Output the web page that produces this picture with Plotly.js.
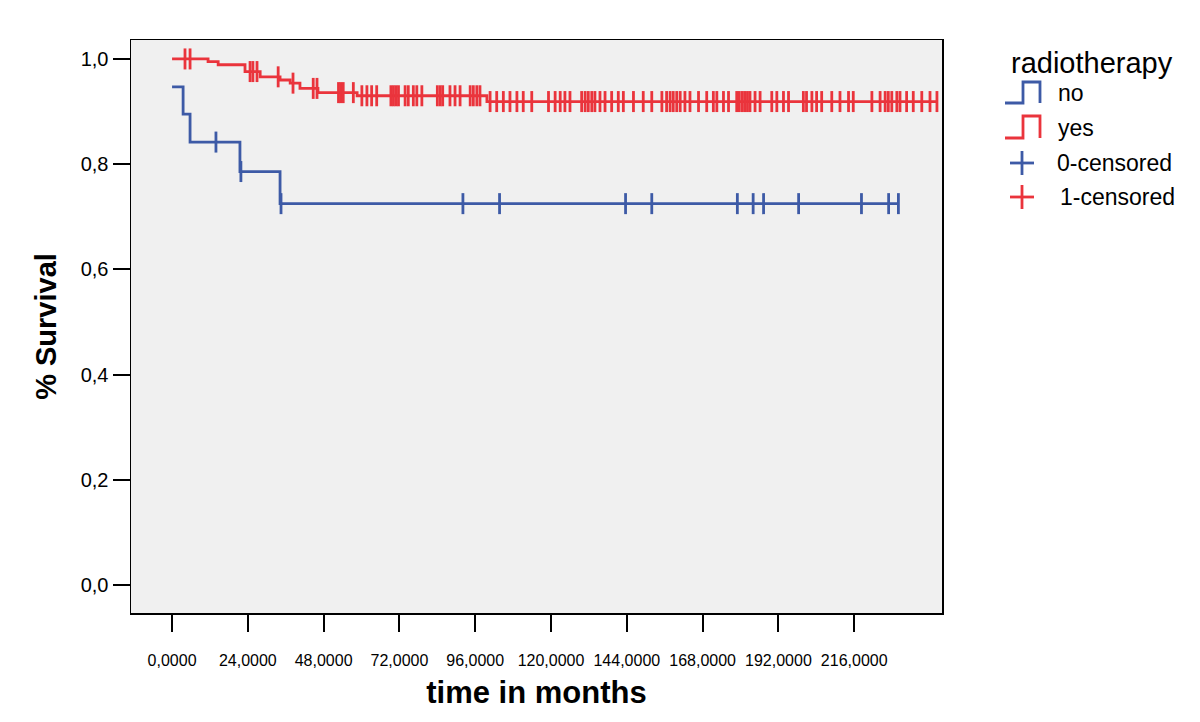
<!DOCTYPE html>
<html>
<head>
<meta charset="utf-8">
<script src="https://cdn.plot.ly/plotly-3.0.1.min.js"></script>
<style>
html,body{margin:0;padding:0;background:#fff;}
#chart{width:1200px;height:722px;}
</style>
</head>
<body>
<div id="chart"></div>
<script>
// ---- data (months, survival proportion) ----
const noEventTimes   = [0, 3.5, 5.7, 21.5, 34.2];
const noSurvival     = [0.947, 0.895, 0.842, 0.786, 0.725];
const noEnd          = 230.0;
const noCensored     = [13.9, 21.8, 34.5, 92.1, 103.7, 143.6, 151.9, 179.0, 184.0, 187.3, 198.4, 218.3, 226.9, 230.0];

const yesEventTimes  = [0, 11.4, 14.6, 23.1, 27.9, 34.2, 37.4, 40.5, 46.2, 58.6, 99.7];
const yesSurvival    = [1.0, 0.995, 0.989, 0.976, 0.966, 0.960, 0.954, 0.944, 0.936, 0.930, 0.919];
const yesEnd         = 242.2;
const yesCensored    = [4.1, 5.7, 24.7, 25.6, 26.9, 33.6, 38.3, 44.7, 45.9,
  52.7, 53.4, 54.2, 57.4, 60.1, 61.7, 63.2, 64.8,
  69.3, 70.1, 70.9, 71.7, 73.8, 74.8, 76.4, 77.5, 79.1, 84.0, 84.9, 85.7, 88.0, 89.6, 91.2, 94.4, 95.4, 96.5, 97.5,
  100.7, 102.8, 104.9, 107.0, 109.2, 111.2, 113.9, 119.2, 121.3, 122.9, 124.4, 126.0, 129.7, 130.8, 131.8, 132.9, 133.9,
  135.5, 137.1, 139.2, 141.3, 142.9, 146.1, 149.2, 151.9, 155.1, 156.6, 157.7, 158.7, 159.8, 160.9, 162.4, 164.0, 166.7,
  169.3, 171.4, 172.5, 174.6, 176.2, 178.8, 179.6, 180.5, 181.3, 182.2, 183.0, 184.6, 186.2, 189.9, 191.5, 193.6, 195.2,
  199.9, 200.9, 202.6, 204.1, 205.7, 208.9, 211.5, 214.2, 215.7, 221.6, 224.2, 225.8, 226.8, 227.9, 229.5, 230.5,
  232.6, 234.7, 237.4, 240.0, 242.2];

const xTickVals   = [0, 24, 48, 72, 96, 120, 144, 168, 192, 216];
const xTickText   = ["0,0000","24,0000","48,0000","72,0000","96,0000","120,0000","144,0000","168,0000","192,0000","216,0000"];
const yTickVals   = [0, 0.2, 0.4, 0.6, 0.8, 1.0];
const yTickText   = ["0,0","0,2","0,4","0,6","0,8","1,0"];
const legendTitle = "radiotherapy";
const legendLabels = ["no", "yes", "0-censored", "1-censored"];

// ---- styles ----
const BLUE = "#3d5aa6";
const RED  = "#ea343c";
const W = 1200, H = 722;
const M = {l: 131, r: 258, t: 40, b: 109};
const PW = W - M.l - M.r, PH = H - M.t - M.b;
const px = x => (x - M.l) / PW;        // pixel -> paper x
const py = y => (H - M.b - y) / PH;    // pixel -> paper y

function stepLine(times, surv, end) {
  return {x: times.concat([end]), y: surv.concat([surv[surv.length - 1]])};
}
function survAt(times, surv, t) {
  let s = surv[0];
  for (let i = 0; i < times.length; i++) if (times[i] <= t) s = surv[i];
  return s;
}

const noLine = stepLine(noEventTimes, noSurvival, noEnd);
const yesLine = stepLine(yesEventTimes, yesSurvival, yesEnd);

const LW = 2.8;
const traces = [
  {x: noLine.x, y: noLine.y, mode: "lines", line: {shape: "hv", color: BLUE, width: LW}, hoverinfo: "skip", showlegend: false},
  {x: yesLine.x, y: yesLine.y, mode: "lines", line: {shape: "hv", color: RED, width: LW}, hoverinfo: "skip", showlegend: false},
  {x: noCensored, y: noCensored.map(t => survAt(noEventTimes, noSurvival, t)), mode: "markers",
   marker: {symbol: "line-ns-open", size: 15, color: BLUE, line: {color: BLUE, width: LW}}, showlegend: false},
  {x: yesCensored, y: yesCensored.map(t => survAt(yesEventTimes, yesSurvival, t)), mode: "markers",
   marker: {symbol: "line-ns-open", size: 15, color: RED, line: {color: RED, width: LW}}, showlegend: false}
];

// ---- hand-drawn legend (paper coords) ----
const shapes = [];
function stepIcon(color, yb, yt) {
  const xs = [1005, 1023, 1023, 1040, 1040];
  const ys = [yb, yb, yt, yt, yb];
  let path = "M" + px(xs[0]) + "," + py(ys[0]);
  for (let i = 1; i < xs.length; i++) path += " L" + px(xs[i]) + "," + py(ys[i]);
  shapes.push({type: "path", xref: "paper", yref: "paper", path: path, line: {color: color, width: LW}});
}
function plusIcon(color, cx, cy) {
  shapes.push({type: "line", xref: "paper", yref: "paper", x0: px(cx - 12), x1: px(cx + 12), y0: py(cy), y1: py(cy), line: {color: color, width: LW}});
  shapes.push({type: "line", xref: "paper", yref: "paper", x0: px(cx), x1: px(cx), y0: py(cy - 12), y1: py(cy + 12), line: {color: color, width: LW}});
}
stepIcon(BLUE, 103, 82);
stepIcon(RED, 138, 116);
plusIcon(BLUE, 1022, 163);
plusIcon(RED, 1022, 197);

const FONT = "Liberation Sans, Arial, Helvetica, sans-serif";
const annotations = [
  {text: legendTitle, x: px(1009), y: py(63), xanchor: "left", yanchor: "middle", font: {size: 29, color: "#000", family: FONT}},
  {text: legendLabels[0], x: px(1056), y: py(93), xanchor: "left", yanchor: "middle", font: {size: 23, color: "#000", family: FONT}},
  {text: legendLabels[1], x: px(1056), y: py(128), xanchor: "left", yanchor: "middle", font: {size: 23, color: "#000", family: FONT}},
  {text: legendLabels[2], x: px(1055), y: py(163), xanchor: "left", yanchor: "middle", font: {size: 23, color: "#000", family: FONT}},
  {text: legendLabels[3], x: px(1058), y: py(197), xanchor: "left", yanchor: "middle", font: {size: 23, color: "#000", family: FONT}}
].map(a => Object.assign({xref: "paper", yref: "paper", showarrow: false}, a));

const layout = {
  width: W, height: H,
  margin: M,
  paper_bgcolor: "#ffffff",
  plot_bgcolor: "#f0f0f0",
  font: {family: FONT, color: "#000"},
  showlegend: false,
  xaxis: {
    range: [-13.0, 243.8],
    tickvals: xTickVals, ticktext: xTickText,
    ticks: "outside", ticklen: 17, tickwidth: 2, tickcolor: "#000",
    showline: true, mirror: true, linecolor: "#000", linewidth: 1.5,
    showgrid: false, zeroline: false,
    tickfont: {size: 16, family: FONT},
    ticklabelstandoff: 15,
    title: {text: "time in months", font: {size: 31, family: FONT, weight: "bold"}, standoff: 13}
  },
  yaxis: {
    range: [-0.053, 1.036],
    tickvals: yTickVals, ticktext: yTickText,
    ticks: "outside", ticklen: 17, tickwidth: 2, tickcolor: "#000",
    showline: true, mirror: true, linecolor: "#000", linewidth: 1.5,
    showgrid: false, zeroline: false,
    tickfont: {size: 20, family: FONT},
    title: {text: "% Survival", font: {size: 29, family: FONT, weight: "bold"}, standoff: 15}
  },
  shapes: shapes,
  annotations: annotations
};

Plotly.newPlot("chart", traces, layout, {displayModeBar: false, staticPlot: true});
</script>
</body>
</html>
